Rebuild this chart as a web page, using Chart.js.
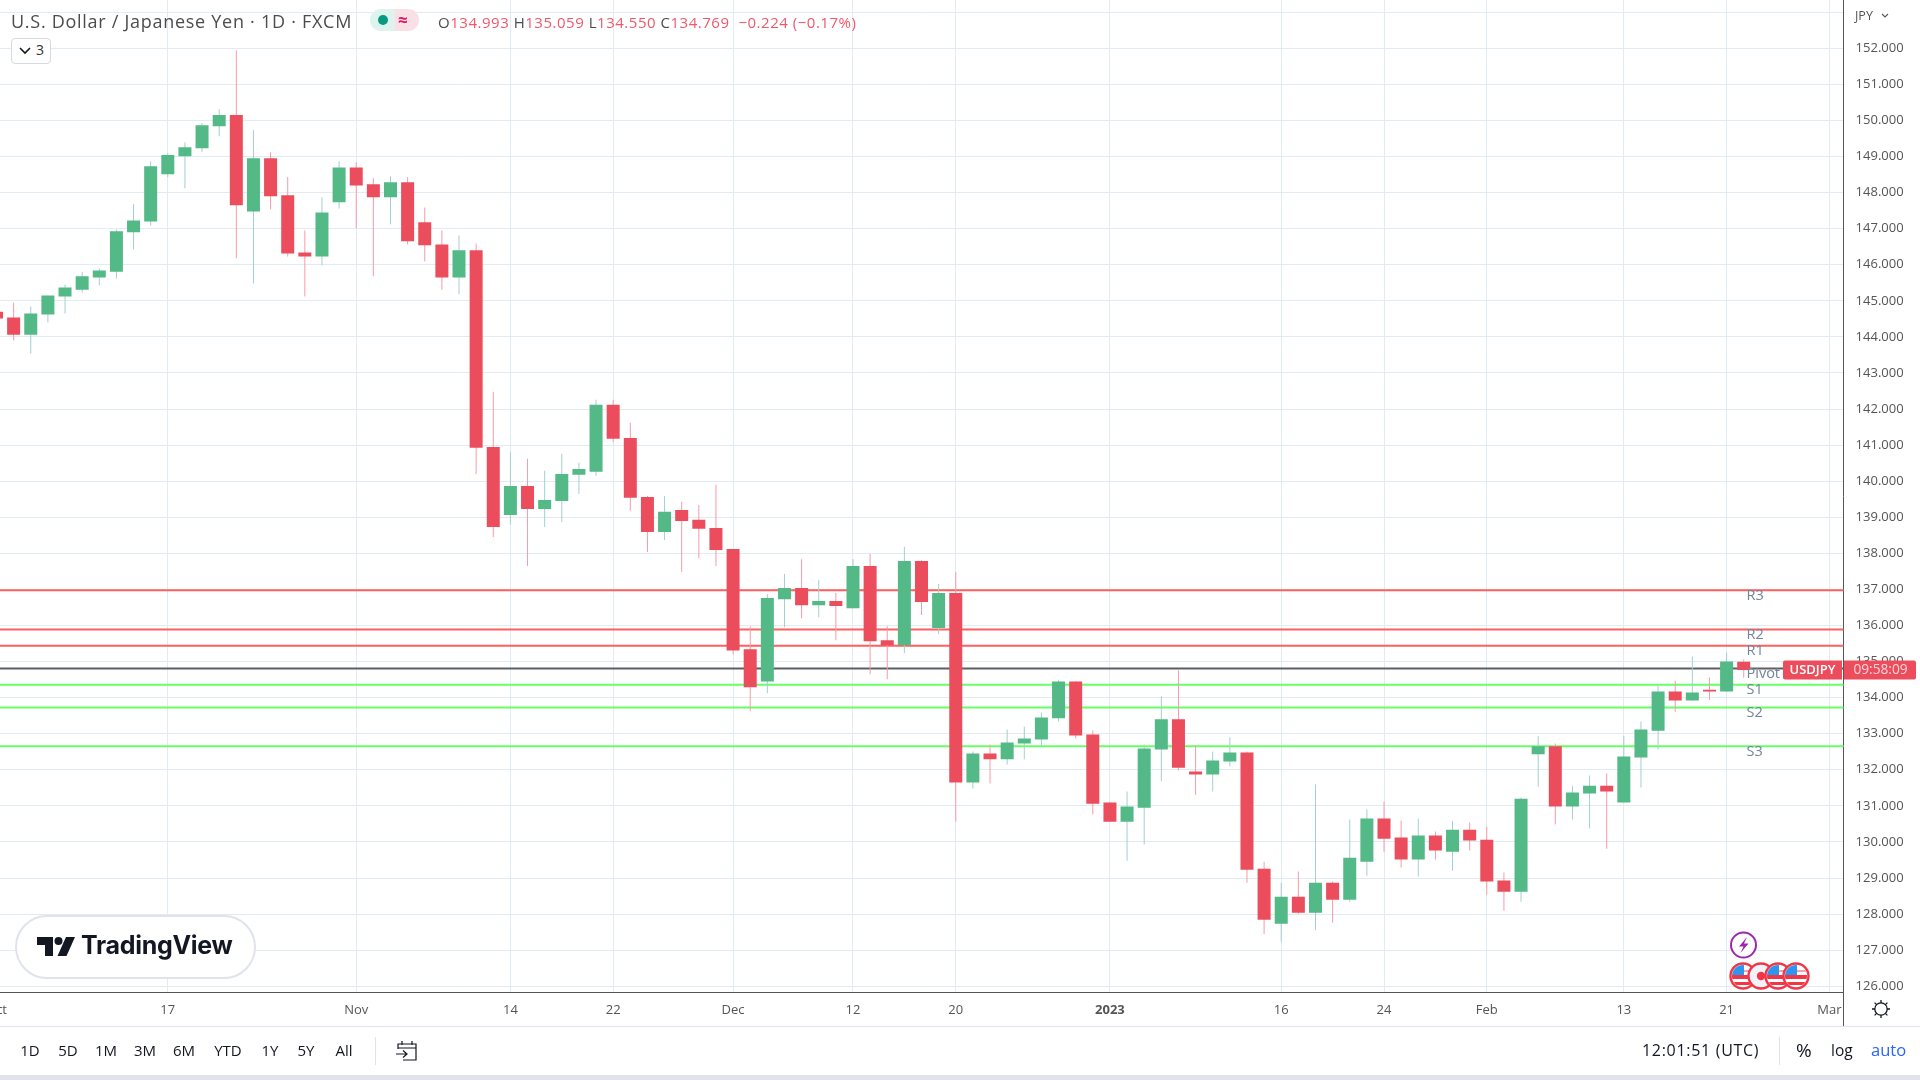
<!DOCTYPE html>
<html><head><meta charset="utf-8">
<script src="https://cdn.jsdelivr.net/npm/chart.js@4/dist/chart.umd.min.js"></script>
<style>
html,body{margin:0;padding:0;background:#fff;width:1920px;height:1080px;overflow:hidden;font-family:"Open Sans","Noto Sans",sans-serif}
#wrap{position:relative;width:1920px;height:1080px;overflow:hidden}
canvas{position:absolute;left:0;top:0}
.o{position:absolute;white-space:nowrap}
.tb{position:absolute;top:1039px;font-size:15px;line-height:22px;color:#131722;transform:translateX(-50%)}
.sep{position:absolute;width:1px;background:#e0e3eb}
.red{color:#f0596b}
</style></head>
<body><div id="wrap">
<canvas id="c" width="1920" height="1080"></canvas>

<div class="o" style="left:18px;top:-16px;font-size:14px;line-height:20px;color:#6f8296">R1</div>
<div class="o" style="left:50px;top:-16px;font-size:14px;line-height:20px;color:#6f8296">Pivot</div>

<div class="o" id="title" style="left:11px;top:9px;font-size:18px;line-height:24px;color:#4c4c4c;letter-spacing:.72px">U.S. Dollar / Japanese Yen · 1D · FXCM</div>
<div class="o" style="left:370px;top:9px;width:25px;height:22px;background:#dff3ee;border-radius:11px 0 0 11px"></div>
<div class="o" style="left:395px;top:9px;width:24px;height:22px;background:#fbdfe7;border-radius:0 11px 11px 0"></div>
<div class="o" style="left:378px;top:15px;width:10px;height:10px;background:#089981;border-radius:50%"></div>
<div class="o" style="left:398px;top:8px;font-size:17px;line-height:24px;font-weight:700;color:#d81b60">≈</div>
<div class="o" id="ohlc" style="left:438px;top:11px;font-size:15px;line-height:22px;color:#4c4c4c;letter-spacing:.52px">O<span class="red">134.993</span> H<span class="red">135.059</span> L<span class="red">134.550</span> C<span class="red">134.769</span> <span class="red">&nbsp;−0.224 (−0.17%)</span></div>
<div class="o" style="left:11px;top:38px;width:38px;height:24px;border:1px solid #d6d8e2;border-radius:4px;background:#fff"></div>
<svg class="o" style="left:18px;top:46px" width="14" height="10"><path d="M2 2 L7 7 L12 2" fill="none" stroke="#131722" stroke-width="1.6"/></svg>
<div class="o" style="left:36px;top:40px;font-size:14px;line-height:20px;color:#333">3</div>

<div class="o" style="left:1855px;top:7px;font-size:12.5px;line-height:18px;color:#555">JPY</div>
<svg class="o" style="left:1881px;top:13px" width="9" height="7"><path d="M1 1 L4 4 L7 1" fill="none" stroke="#555" stroke-width="1.1"/></svg>

<div class="o" style="left:15px;top:915px;width:237px;height:60px;background:#fff;border:2px solid #e0e3eb;border-radius:32px"></div>
<svg class="o" style="left:37px;top:936px" width="40" height="21" viewBox="0 0 40 21"><path d="M0 1H16V20H8V9H0Z" fill="#131722"/><circle cx="21.5" cy="5" r="4" fill="#131722"/><path d="M29 1H38L29.5 20H20.5Z" fill="#131722"/></svg>
<div class="o" id="tvtext" style="left:81px;top:925px;font-family:Inter,sans-serif;font-weight:700;font-size:25px;line-height:40px;color:#131722;letter-spacing:-.3px">TradingView</div>

<svg class="o" style="left:1726px;top:929px" width="90" height="64" viewBox="0 0 90 64">
 <circle cx="17.5" cy="16" r="12.5" fill="#fff" stroke="#9c27b0" stroke-width="2"/>
 <path d="M21 8 L13 17.5 H17.5 L14.5 24 L22.5 14.5 H18Z" fill="#9c27b0"/>
 <g id="flags"></g>
</svg>

<svg class="o" style="left:1871px;top:999px" width="20" height="20" viewBox="0 0 20 20"><circle cx="10" cy="10" r="6.2" fill="none" stroke="#131722" stroke-width="1.3"/><g stroke="#131722" stroke-width="1.3"><path d="M10 1V4M10 16V19M1 10H4M16 10H19M3.6 3.6L5.6 5.6M14.4 14.4L16.4 16.4M3.6 16.4L5.6 14.4M14.4 5.6L16.4 3.6"/></g></svg>

<div class="o" style="left:0;top:1026px;width:1920px;height:1px;background:#e0e3eb"></div>
<div class="o" style="left:1843px;top:992px;width:1px;height:34px;background:#555"></div>
<div class="o" style="left:0;top:1075px;width:1920px;height:5px;background:#e0e3eb"></div>
<div class="sep" style="left:375px;top:1037px;height:28px"></div>
<div class="sep" style="left:1779px;top:1037px;height:28px"></div>
<div id="toolbar"></div>
<svg class="o" style="left:395px;top:1040px" width="23" height="21" viewBox="0 0 23 21"><g fill="none" stroke="#131722" stroke-width="1.2"><path d="M3 9V4H21V20H8M3 8H21M7 1V5M17 1V5"/><path d="M1 14H12M8 10.5L12 14L8 17.5"/></g></svg>
<div class="o" id="clock" style="left:1642px;top:1039px;font-size:16px;line-height:22px;color:#131722;letter-spacing:.7px">12:01:51 (UTC)</div>
<div class="o" style="left:1796px;top:1039px;font-size:19px;line-height:22px;color:#131722">%</div>
<div class="o" style="left:1831px;top:1039px;font-size:15.5px;line-height:22px;color:#131722">log</div>
<div class="o" style="left:1871px;top:1039px;font-size:16.5px;line-height:22px;color:#2962ff">auto</div>
</div>
<script>
const dates=["Oct 3","Oct 4","Oct 5","Oct 6","Oct 7","Oct 10","Oct 11","Oct 12","Oct 13","Oct 14","Oct 17","Oct 18","Oct 19","Oct 20","Oct 21","Oct 24","Oct 25","Oct 26","Oct 27","Oct 28","Oct 31","Nov 1","Nov 2","Nov 3","Nov 4","Nov 7","Nov 8","Nov 9","Nov 10","Nov 11","Nov 14","Nov 15","Nov 16","Nov 17","Nov 18","Nov 21","Nov 22","Nov 23","Nov 24","Nov 25","Nov 28","Nov 29","Nov 30","Dec 1","Dec 2","Dec 5","Dec 6","Dec 7","Dec 8","Dec 9","Dec 12","Dec 13","Dec 14","Dec 15","Dec 16","Dec 19","Dec 20","Dec 21","Dec 22","Dec 23","Dec 26","Dec 27","Dec 28","Dec 29","Dec 30","Jan 2","Jan 3","Jan 4","Jan 5","Jan 6","Jan 9","Jan 10","Jan 11","Jan 12","Jan 13","Jan 16","Jan 17","Jan 18","Jan 19","Jan 20","Jan 23","Jan 24","Jan 25","Jan 26","Jan 27","Jan 30","Jan 31","Feb 1","Feb 2","Feb 3","Feb 6","Feb 7","Feb 8","Feb 9","Feb 10","Feb 13","Feb 14","Feb 15","Feb 16","Feb 17","Feb 20","Feb 21","Feb 22"];
const opens=[144.70,144.54,144.06,144.62,145.12,145.31,145.65,145.81,146.90,147.20,148.51,149.01,149.23,149.84,150.15,147.48,148.95,147.93,146.34,146.23,147.73,148.70,148.23,147.87,148.29,147.18,146.56,145.65,146.40,140.95,139.06,139.87,139.23,139.45,140.18,140.26,142.12,141.20,139.56,138.59,139.20,138.93,138.70,138.12,135.34,134.45,136.73,137.04,136.56,136.68,136.48,137.65,135.59,135.45,137.79,135.93,136.90,131.65,132.45,132.29,132.73,132.84,133.43,134.45,132.98,131.09,130.56,130.95,132.56,133.40,131.95,131.87,132.23,132.48,129.26,127.73,128.48,128.04,128.87,128.40,129.45,130.65,130.12,129.51,130.18,129.73,130.34,130.06,128.93,128.62,132.43,132.65,130.98,131.34,131.56,131.09,132.34,133.08,134.17,133.92,134.22,134.17,134.993];
const highs=[144.82,144.95,144.84,145.15,145.45,145.81,145.90,146.98,147.68,148.87,149.09,149.40,149.93,150.31,151.95,149.73,149.12,148.43,146.95,147.87,148.87,148.84,148.40,148.45,148.43,147.59,146.95,146.81,146.59,142.48,140.81,140.62,140.29,140.76,140.51,142.26,142.26,141.62,139.59,139.59,139.43,139.34,139.90,138.13,135.98,136.87,137.43,137.84,137.26,136.90,137.84,137.98,135.98,138.18,137.81,137.15,137.48,132.51,132.70,133.12,133.20,133.59,134.48,134.46,133.09,131.10,131.40,132.70,134.04,134.76,132.68,132.51,132.90,132.51,129.45,128.87,129.18,131.59,128.90,130.62,130.90,131.12,130.59,130.65,130.29,130.59,130.54,130.43,129.15,131.23,132.93,132.73,131.56,131.84,131.90,132.93,133.34,134.33,134.47,135.14,134.56,135.25,135.059];
const lows=[144.48,143.90,143.54,144.40,144.65,145.23,145.43,145.62,146.43,147.09,148.43,148.12,149.12,149.56,146.18,145.48,147.54,146.23,145.12,145.98,147.56,147.01,145.68,147.12,146.56,146.09,145.31,145.18,140.20,138.45,138.79,137.65,138.73,138.87,139.65,140.15,141.09,139.18,138.04,138.37,137.49,137.87,137.65,135.20,133.62,134.12,135.95,136.20,136.23,135.59,136.48,134.65,134.51,135.23,136.29,135.76,130.56,131.48,131.62,132.15,132.29,132.65,133.34,132.87,130.76,130.56,129.48,129.93,131.68,131.98,131.31,131.40,132.09,128.87,127.45,127.23,128.01,127.56,127.76,128.34,129.06,129.73,129.29,129.04,129.51,129.20,129.76,128.54,128.09,128.34,131.54,130.48,130.62,130.37,129.81,131.09,131.51,132.56,133.61,133.92,133.94,134.17,134.550];
const closes=[144.51,144.06,144.65,145.15,145.37,145.68,145.84,146.93,147.23,148.73,149.04,149.26,149.87,150.15,147.65,148.95,147.90,146.31,146.23,147.45,148.70,148.20,147.87,148.29,146.65,146.54,145.65,146.40,140.93,138.73,139.87,139.23,139.48,140.20,140.34,142.12,141.18,139.54,138.59,139.15,138.90,138.68,138.09,135.31,134.29,136.76,137.04,136.56,136.68,136.54,137.65,135.56,135.45,137.79,136.65,136.90,131.65,132.45,132.29,132.76,132.87,133.45,134.45,132.95,131.06,130.56,130.98,132.59,133.40,132.06,131.87,132.26,132.48,129.23,127.84,128.48,128.04,128.87,128.40,129.56,130.65,130.09,129.51,130.18,129.76,130.34,130.04,128.90,128.62,131.20,132.65,130.98,131.37,131.56,131.40,132.37,133.12,134.17,133.92,134.14,134.17,135.00,134.769];
const tickIndices=[0,10,21,30,36,43,50,56,65,75,81,87,95,101,107];
const tickLabels=["Oct","17","Nov","14","22","Dec","12","20","2023","16","24","Feb","13","21","Mar"];
const boldTickIndex=65;
const levelNames=["R3","R2","R1","Pivot","S1","S2","S3"];
const levelValues=[136.98,135.89,135.44,134.81,134.36,133.73,132.65];
const levelColors=["#ff5f5f","#ff5f5f","#ff5f5f","#5f5f5f","#66ff66","#66ff66","#66ff66"];
const rangeButtons=["1D","5D","1M","3M","6M","YTD","1Y","5Y","All"];
const rangeButtonCenters=[30,68,106,145,184,228,270,306,344];
const lastPrice=134.769;
const UP="#53b987",DOWN="#eb4d5c",UPW="#a3cfcf",DOWNW="#f79aa8";

rangeButtons.forEach((t,i)=>{const d=document.createElement('div');d.className='tb';d.style.left=rangeButtonCenters[i]+'px';d.textContent=t;document.getElementById('toolbar').appendChild(d);});

(function(){
 const ns=[17,35,52,70];let s='';
 ns.forEach((cx,i)=>{
  const cy=47;
  if(i===1){s+=`<circle cx="${cx}" cy="${cy}" r="12.5" fill="#f0f3fa" stroke="#f23645" stroke-width="2.4"/><circle cx="${cx}" cy="${cy}" r="4.2" fill="#f23645"/>`;}
  else{const id='cl'+i;s+=`<clipPath id="${id}"><circle cx="${cx}" cy="${cy}" r="11"/></clipPath><circle cx="${cx}" cy="${cy}" r="12.5" fill="#fff" stroke="#f23645" stroke-width="2.4"/><g clip-path="url(#${id})"><rect x="${cx-12}" y="${cy-1}" width="24" height="4" fill="#f23645"/><rect x="${cx-12}" y="${cy+6}" width="24" height="3" fill="#f23645"/><rect x="${cx-12}" y="${cy-6}" width="24" height="2" fill="#f9a0a8"/><rect x="${cx-11}" y="${cy-11}" width="12" height="10" fill="#2f96f0"/></g>`;}
 });
 document.getElementById('flags').innerHTML=s;
})();

const xMin=0.204,xMax=107.83;
const idx=dates.map((_,i)=>i);
const lineSets=levelValues.map((v,i)=>({type:'line',label:levelNames[i],data:[{x:0,y:v},{x:108,y:v}],borderColor:levelColors[i],borderWidth:2,pointRadius:0,order:3,parsing:{xAxisKey:'x',yAxisKey:'y'}}));
const wick={type:'bar',label:'wick',data:idx.map(i=>({x:i,y:[lows[i],highs[i]]})),backgroundColor:idx.map(i=>closes[i]>=opens[i]?UPW:DOWNW),barThickness:1,grouped:false,borderWidth:0,inflateAmount:0,borderSkipped:false,order:2};
const body={type:'bar',label:'USDJPY',data:idx.map(i=>({x:i,y:[opens[i],closes[i]]})),backgroundColor:idx.map(i=>closes[i]>=opens[i]?UP:DOWN),barThickness:13,grouped:false,borderWidth:0,inflateAmount:0,borderSkipped:false,order:1};

const overlay={id:'overlay',afterDatasetsDraw(chart){
 const c=chart.ctx,y=chart.scales.y;
 c.save();
 c.font='14.5px "Open Sans"';c.fillStyle='#72859a';c.textBaseline='middle';c.textAlign='left';
 levelNames.forEach((n,i)=>{c.fillText(n,1746.5,y.getPixelForValue(levelValues[i])+5.5);});
 c.restore();
}};
const tag={id:'tag',afterDraw(chart){
 const c=chart.ctx,y=chart.scales.y;
 const py=y.getPixelForValue(lastPrice);
 c.save();
 c.fillStyle=DOWN;
 c.beginPath();c.roundRect(1783,py-9.5,59,19,[2,0,0,2]);c.fill();
 c.beginPath();c.roundRect(1844,py-9.5,72,19,[0,2,2,0]);c.fill();
 c.font='600 13px "Open Sans"';c.fillStyle='#fff';c.textBaseline='middle';c.textAlign='center';
 c.fillText('USDJPY',1812.5,py+.5);
 c.font='13.7px "Open Sans"';c.fillStyle='#fbd5da';
 c.fillText('09:58:09',1880.5,py+.5);
 c.restore();
}};

new Chart(document.getElementById('c'),{
 data:{datasets:[body,wick,...lineSets]},
 plugins:[overlay,tag],
 options:{
  responsive:false,animation:false,devicePixelRatio:1,
  layout:{padding:0},
  plugins:{legend:{display:false},tooltip:{enabled:false},title:{display:false}},
  scales:{
   x:{type:'linear',offset:false,min:xMin,max:xMax,
    afterBuildTicks(s){s.ticks=tickIndices.map(v=>({value:v}));},
    afterFit(s){s.height=88;s.paddingLeft=0;s.paddingRight=0;},
    grid:{offset:false,color:'#e1ecf2',lineWidth:1,drawTicks:false},
    border:{color:'#555',width:1},
    ticks:{autoSkip:false,maxRotation:0,minRotation:0,padding:10,color:'#555',
     font:c=>({family:'"Open Sans"',size:13,weight:c.tick&&c.tick.value===boldTickIndex?'700':'400'}),
     callback:v=>{const k=tickIndices.indexOf(v);return k<0?'':tickLabels[k];}}},
   y:{type:'linear',position:'right',min:125.84,max:153.34,
    afterFit(s){s.width=76.4;s.paddingTop=0;s.paddingBottom=0;},
    grid:{color:'#e1ecf2',lineWidth:1,drawTicks:false},
    border:{color:'#555',width:1},
    ticks:{stepSize:1,includeBounds:false,padding:12,color:'#555',font:{family:'"Open Sans"',size:13},
     callback:v=>v>=153?'':v.toFixed(3)}}
  }
 }
});
</script>
</body></html>
